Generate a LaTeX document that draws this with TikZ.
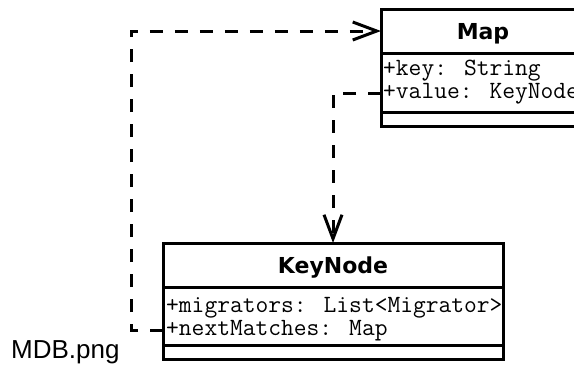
\documentclass[tikz,border=0pt]{standalone}
\usepackage{fontspec}
\setmainfont{Liberation Sans}
\newfontfamily\headfont{DejaVu Sans}
\usetikzlibrary{positioning,arrows.meta}

\begin{document}
\begin{tikzpicture}[x=1pt,y=-1pt,
    box/.style={draw=black,line width=3pt,outer sep=0pt,inner sep=0pt},
    title/.style={font=\headfont\bfseries\fontsize{22}{24}\selectfont,text height=16pt,text depth=0pt},
    field/.style={font=\ttfamily\fontsize{24.8}{26}\selectfont,inner sep=0pt,anchor=base west},
    dep/.style={line width=3pt,dash pattern=on 13pt off 12pt,-{Straight Barb[length=24pt,width=18pt]}}]
      \useasboundingbox (0,0) rectangle (574,367);
      \clip (0,0) rectangle (574,367);

      % Map
      \node[box,title,minimum width=204pt,minimum height=44pt,anchor=north west] (map) at (381,9) {Map};
      \node[box,minimum width=204pt,minimum height=59pt,below=0pt of map] (mapattr) {};
      \node[box,minimum width=204pt,minimum height=14pt,below=0pt of mapattr] (mapops) {};
      \node[field] (mapkey) at (383,75) {+key: String};
      \node[field] (mapvalue) at (383,98) {+value: KeyNode};

      % KeyNode
      \node[box,title,minimum width=340pt,minimum height=44pt,anchor=north west] (keynode) at (163,243) {KeyNode};
      \node[box,minimum width=340pt,minimum height=58pt,below=0pt of keynode] (keynodeattr) {};
      \node[box,minimum width=340pt,minimum height=14pt,below=0pt of keynodeattr] (keynodeops) {};
      \node[field] (migrators) at (166,312) {+migrators: List<Migrator>};
      \node[field] (nextmatches) at (166,335) {+nextMatches: Map};

      \node[font=\fontsize{26}{30}\selectfont,inner sep=0pt,anchor=base west] (caption) at (11,358) {MDB.png};

      \draw[dep] (keynodeattr.west |- nextmatches) -- ++(-32,0) |- (map.west);
      \draw[dep] (mapattr.west |- mapvalue) -| (keynode.north);
    \end{tikzpicture}
\end{document}
